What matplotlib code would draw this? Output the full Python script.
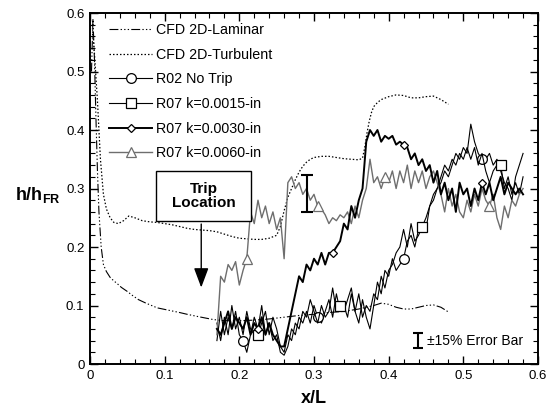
import matplotlib; matplotlib.use('Agg')
import matplotlib.pyplot as plt
from matplotlib.lines import Line2D
from matplotlib.patches import Rectangle
from matplotlib.ticker import MultipleLocator, FuncFormatter

plt.rcParams['font.family'] = ['Liberation Sans', 'DejaVu Sans']
plt.rcParams['mathtext.fontset'] = 'custom'
plt.rcParams['mathtext.rm'] = 'Liberation Sans'
plt.rcParams['mathtext.bf'] = 'Liberation Sans:bold'

# CFD curves
x_lam = [0.002, 0.004, 0.006, 0.008, 0.010, 0.012, 0.015, 0.018, 0.022, 0.027, 0.032, 0.036,
         0.042, 0.050, 0.056, 0.065, 0.075, 0.090, 0.105, 0.120, 0.130, 0.145, 0.165, 0.180,
         0.200, 0.220, 0.240, 0.260, 0.280, 0.300, 0.320, 0.340, 0.360, 0.380, 0.390, 0.400,
         0.410, 0.420, 0.430, 0.440, 0.450, 0.460, 0.470, 0.480]
y_lam = [0.50, 0.59, 0.52, 0.42, 0.33, 0.26, 0.20, 0.170, 0.158, 0.148, 0.142, 0.138,
         0.131, 0.124, 0.118, 0.110, 0.104, 0.096, 0.092, 0.088, 0.085, 0.081, 0.076, 0.074,
         0.074, 0.075, 0.077, 0.080, 0.083, 0.085, 0.088, 0.090, 0.094, 0.100, 0.104, 0.102,
         0.097, 0.094, 0.094, 0.097, 0.100, 0.101, 0.097, 0.089]

x_turb = [0.003, 0.006, 0.010, 0.014, 0.018, 0.022, 0.027, 0.032, 0.038, 0.045, 0.052, 0.060,
          0.070, 0.080, 0.090, 0.100, 0.110, 0.120, 0.130, 0.140, 0.150, 0.160, 0.170, 0.180,
          0.190, 0.200, 0.210, 0.220, 0.230, 0.240, 0.250, 0.255, 0.260, 0.265, 0.270, 0.275,
          0.280, 0.285, 0.290, 0.295, 0.300, 0.310, 0.320, 0.330, 0.340, 0.350, 0.360, 0.365,
          0.368, 0.371, 0.374, 0.377, 0.380, 0.385, 0.390, 0.400, 0.410, 0.420, 0.430, 0.440,
          0.450, 0.460, 0.470, 0.480]
y_turb = [0.58, 0.53, 0.45, 0.35, 0.29, 0.265, 0.250, 0.242, 0.240, 0.245, 0.253, 0.250,
          0.245, 0.243, 0.242, 0.240, 0.238, 0.235, 0.232, 0.230, 0.229, 0.228, 0.226, 0.222,
          0.218, 0.215, 0.214, 0.213, 0.213, 0.215, 0.220, 0.235, 0.262, 0.285, 0.300, 0.315,
          0.328, 0.338, 0.345, 0.350, 0.353, 0.355, 0.355, 0.353, 0.351, 0.350, 0.349, 0.352,
          0.370, 0.395, 0.415, 0.430, 0.440, 0.447, 0.452, 0.457, 0.460, 0.459, 0.455, 0.455,
          0.457, 0.458, 0.452, 0.444]

# experiment, common x stations
x_exp = [0.170, 0.175, 0.180, 0.185, 0.190, 0.195, 0.200, 0.205, 0.210, 0.215,
         0.220, 0.225, 0.230, 0.235, 0.240, 0.245, 0.250, 0.255, 0.260, 0.265,
         0.270, 0.275, 0.280, 0.285, 0.290, 0.295, 0.300, 0.305, 0.310, 0.315,
         0.320, 0.325, 0.330, 0.335, 0.340, 0.345, 0.350, 0.355, 0.360, 0.365,
         0.370, 0.375, 0.380, 0.385, 0.390, 0.395, 0.400, 0.405, 0.410, 0.415,
         0.420, 0.425, 0.430, 0.435, 0.440, 0.445, 0.450, 0.455, 0.460, 0.465,
         0.470, 0.475, 0.480, 0.485, 0.490, 0.495, 0.500, 0.505, 0.510, 0.515,
         0.520, 0.525, 0.530, 0.535, 0.540, 0.545, 0.550, 0.555, 0.560, 0.565,
         0.570, 0.575, 0.580]
y_r02 = [0.04, 0.09, 0.05, 0.08, 0.06, 0.09, 0.05, 0.04, 0.02, 0.05,
         0.08, 0.06, 0.10, 0.05, 0.07, 0.04, 0.05, 0.02, 0.015, 0.03,
         0.06, 0.05, 0.08, 0.07, 0.09, 0.07, 0.10, 0.08, 0.07, 0.09,
         0.11, 0.08, 0.12, 0.09, 0.10, 0.08, 0.12, 0.09, 0.07, 0.11,
         0.08, 0.06, 0.10, 0.14, 0.12, 0.16, 0.15, 0.18, 0.16, 0.17,
         0.18, 0.21, 0.22, 0.20, 0.23, 0.24, 0.23, 0.27, 0.28, 0.30,
         0.31, 0.33, 0.32, 0.34, 0.36, 0.35, 0.37, 0.36, 0.41, 0.38,
         0.36, 0.35, 0.35, 0.36, 0.34, 0.35, 0.33, 0.31, 0.30, 0.28,
         0.32, 0.34, 0.36]
y_k15 = [0.07, 0.04, 0.08, 0.05, 0.10, 0.06, 0.08, 0.05, 0.09, 0.06,
         0.05, 0.05, 0.07, 0.09, 0.05, 0.08, 0.06, 0.03, 0.02, 0.05,
         0.04, 0.07, 0.06, 0.09, 0.08, 0.11, 0.09, 0.07, 0.10, 0.08,
         0.09, 0.13, 0.09, 0.10, 0.09, 0.11, 0.13, 0.09, 0.12, 0.08,
         0.10, 0.09, 0.12, 0.11, 0.15, 0.13, 0.16, 0.17, 0.19, 0.20,
         0.23, 0.20, 0.24, 0.21, 0.22, 0.235, 0.25, 0.27, 0.29, 0.30,
         0.32, 0.34, 0.33, 0.35, 0.34, 0.36, 0.35, 0.37, 0.35, 0.37,
         0.34, 0.36, 0.33, 0.31, 0.33, 0.34, 0.34, 0.30, 0.32, 0.29,
         0.31, 0.29, 0.32]
y_k30 = [0.06, 0.05, 0.07, 0.09, 0.06, 0.08, 0.07, 0.06, 0.08, 0.05,
         0.07, 0.06, 0.08, 0.05, 0.07, 0.05, 0.04, 0.03, 0.03, 0.06,
         0.09, 0.12, 0.15, 0.14, 0.17, 0.16, 0.18, 0.17, 0.19, 0.17,
         0.19, 0.19, 0.20, 0.21, 0.24, 0.23, 0.27, 0.25, 0.28, 0.30,
         0.38, 0.40, 0.39, 0.40, 0.38, 0.39, 0.385, 0.39, 0.375, 0.38,
         0.375, 0.37, 0.35, 0.36, 0.34, 0.35, 0.33, 0.34, 0.31, 0.33,
         0.29, 0.31, 0.28, 0.30, 0.26, 0.31, 0.29, 0.30, 0.27, 0.30,
         0.28, 0.31, 0.29, 0.31, 0.28, 0.30, 0.32, 0.29, 0.31, 0.30,
         0.29, 0.30, 0.29]
y_k60 = [0.05, 0.15, 0.14, 0.17, 0.16, 0.175, 0.135, 0.16, 0.18, 0.26,
         0.24, 0.28, 0.25, 0.27, 0.24, 0.26, 0.23, 0.25, 0.18, 0.31,
         0.32, 0.30, 0.31, 0.29, 0.30, 0.28, 0.29, 0.27, 0.265, 0.255,
         0.24, 0.25, 0.245, 0.255, 0.25, 0.26, 0.24, 0.27, 0.25, 0.28,
         0.30, 0.35, 0.31, 0.32, 0.30, 0.32, 0.31, 0.33, 0.30, 0.33,
         0.31, 0.34, 0.30, 0.33, 0.31, 0.33, 0.30, 0.32, 0.33, 0.31,
         0.29, 0.26, 0.30, 0.27, 0.29, 0.26, 0.25, 0.28, 0.26, 0.29,
         0.27, 0.30, 0.28, 0.27, 0.29, 0.25, 0.23, 0.27, 0.25, 0.28,
         0.27, 0.29, 0.30]
# indices of the symbol stations
mk_r02 = [7, 27, 50, 71]
mk_k15 = [11, 33, 55, 76]
mk_k30 = [11, 31, 50, 71]
mk_k60 = [8, 27, 45, 73]

# error bars
err_x, err_y, err_h = 0.29, 0.291, 0.032
key_x, key_y, key_h = 0.439, 0.040, 0.013

lam_ls = (0, (8, 2, 1.2, 2, 1.2, 2, 1.2, 2))
turb_ls = (0, (1.2, 1.6))
gray = '#6e6e6e'

fig = plt.figure(figsize=(5.51, 4.12), dpi=100)
ax = fig.add_axes([0.1633, 0.1165, 0.8131, 0.8519])

ax.plot(x_lam, y_lam, color='k', lw=0.8, ls=lam_ls)
ax.plot(x_turb, y_turb, color='k', lw=0.9, ls=turb_ls)
mkw = dict(mfc='white', mew=0.9)
ax.plot(x_exp, y_r02, color='k', lw=0.8, marker='o', ms=7, markevery=mk_r02, mec='k', **mkw)
ax.plot(x_exp, y_k15, color='k', lw=0.8, marker='s', ms=6.5, markevery=mk_k15, mec='k', **mkw)
ax.plot(x_exp, y_k60, color=gray, lw=1.0, marker='^', ms=7, markevery=mk_k60, mec=gray, **mkw)
ax.plot(x_exp, y_k30, color='k', lw=1.4, marker='D', ms=4, markevery=mk_k30, mec='k', **mkw)

ax.errorbar([err_x], [err_y], yerr=[err_h], fmt='none', ecolor='k', elinewidth=1.5,
            capsize=4, capthick=1.5)
ax.errorbar([key_x], [key_y], yerr=[key_h], fmt='none', ecolor='k', elinewidth=1.5,
            capsize=3.5, capthick=1.5)
ax.text(key_x + 0.013, key_y, '±15% Error Bar', fontsize=10, va='center', ha='left')

# trip location box + arrow
ax.add_patch(Rectangle((0.088, 0.244), 0.128, 0.086, fc='white', ec='k', lw=1.0, zorder=4))
ax.text(0.152, 0.287, 'Trip\nLocation', fontsize=11, fontweight='bold', ha='center',
        va='center', linespacing=1.05, zorder=5)
ax.annotate('', xy=(0.149, 0.126), xytext=(0.149, 0.244),
            arrowprops=dict(arrowstyle='-|>,head_length=1.2,head_width=0.45', color='k', lw=1.0))

handles = [
    Line2D([], [], color='k', lw=0.8, ls=lam_ls),
    Line2D([], [], color='k', lw=0.9, ls=turb_ls),
    Line2D([], [], color='k', lw=0.8, marker='o', ms=7, mec='k', **mkw),
    Line2D([], [], color='k', lw=0.8, marker='s', ms=6.5, mec='k', **mkw),
    Line2D([], [], color='k', lw=1.4, marker='D', ms=4, mec='k', **mkw),
    Line2D([], [], color=gray, lw=1.0, marker='^', ms=7, mec=gray, **mkw),
]
labels = ['CFD 2D-Laminar', 'CFD 2D-Turbulent', 'R02 No Trip', 'R07 k=0.0015-in',
          'R07 k=0.0030-in', 'R07 k=0.0060-in']
ax.legend(handles, labels, loc='upper left', bbox_to_anchor=(0.043, 0.971), frameon=False,
          fontsize=10.3, handlelength=3.0, handletextpad=0.3, labelspacing=0.74,
          borderpad=0, borderaxespad=0)

ax.set_xlim(0, 0.6)
ax.set_ylim(0, 0.6)
ax.xaxis.set_major_locator(MultipleLocator(0.1))
ax.xaxis.set_minor_locator(MultipleLocator(0.02))
ax.yaxis.set_major_locator(MultipleLocator(0.1))
ax.yaxis.set_minor_locator(MultipleLocator(0.02))
fmt = FuncFormatter(lambda v, p: '0' if abs(v) < 1e-9 else f'{v:.1f}')
ax.xaxis.set_major_formatter(fmt)
ax.yaxis.set_major_formatter(fmt)
ax.tick_params(which='both', direction='in', top=True, right=True, labelsize=9.5)
ax.tick_params(which='major', length=6, width=1.0, pad=4)
ax.tick_params(which='minor', length=3.5, width=0.8)
for s in ax.spines.values():
    s.set_linewidth(1.4)

ax.set_xlabel('x/L', fontsize=13, fontweight='bold', labelpad=6)
fig.text(0.027, 0.527, r'$\mathbf{h/h}_{\mathbf{FR}}$', fontsize=13, ha='left', va='center')

fig.savefig('out.png', dpi=100)
